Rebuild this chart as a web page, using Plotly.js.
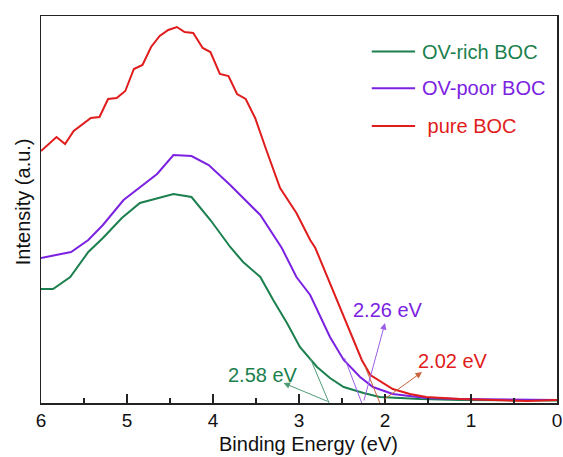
<!DOCTYPE html>
<html>
<head>
<meta charset="utf-8">
<script src="https://cdn.plot.ly/plotly-3.0.1.min.js"></script>
<style>html,body{margin:0;padding:0;background:#fff;}#chart{width:563px;height:457px;}</style>
</head>
<body>
<div id="chart"></div>
<script>
// Data
const seriesNames = ["OV-rich BOC", "OV-poor BOC", " pure BOC"];
const seriesColors = ["#1b7f4e", "#7b22e2", "#e01c1c"];

const greenX = [6.0,5.86,5.66,5.45,5.28,5.06,4.85,4.65,4.46,4.25,4.03,3.80,3.65,3.45,3.30,3.14,2.99,2.79,2.64,2.48,2.25,2.06,1.59,1.13,0.74,0.35,0];
const greenY = [114,114,126,151,165,185,200,205,209,206,183,156,141,126,103,80,56,36,25,16,10,6,4,3,3,2.5,2.5];

const purpleX = [6.0,5.65,5.45,5.28,5.04,4.85,4.65,4.46,4.25,4.05,3.80,3.45,3.34,3.20,3.03,2.87,2.64,2.48,2.29,2.14,1.91,1.52,1.13,0.74,0.35,0];
const purpleY = [145,151,163,178,203,216,229,248,247,238,218,188,173,155,126,108,66,43,26,16,9,5,4,3.5,3,3];

const redX = [6.0,5.82,5.72,5.62,5.42,5.32,5.22,5.12,5.02,4.92,4.82,4.72,4.62,4.52,4.42,4.33,4.23,4.12,4.03,3.92,3.82,3.72,3.62,3.51,3.38,3.22,3.03,2.87,2.81,2.64,2.48,2.41,2.27,2.17,2.06,1.91,1.71,1.52,1.13,0.74,0.35,0];
const redY = [252,266,259,272,285,286,304,305,312,334,338,356,367,373,376,371,370,355,351,329,327,309,304,285,253,215,190,163,155,120,86,73,43,28,22,14,9,6,4,3,2,3];

// Tangent lines (band-gap extrapolation)
const tanGreenX = [2.87, 2.65], tanGreenY = [45, 0];
const tanPurpleX = [2.47, 2.27], tanPurpleY = [45, 0];
const tanRedX = [2.23, 2.06], tanRedY = [36, 0];
const tangentColors = ["#4f9c77", "#9b5ee8", "#c8643e"];

// Band-gap labels
const gapLabels = ["2.58 eV", "2.26 eV", "2.02 eV"];
const gapLabelX = [3.42, 1.96, 1.21];
const gapLabelY = [28, 93, 42];
// arrow heads and tails
const arrowHeadX = [3.18, 2.0, 1.57];
const arrowHeadY = [20, 80, 31];
const arrowTailX = [2.65, 2.25, 2.02];
const arrowTailY = [1, 1, 3];

const xTicks = [6,5,4,3,2,1,0];

const FONT = "Liberation Sans, Arial, sans-serif";

const traces = [
  {x: greenX, y: greenY, mode: "lines", line: {color: seriesColors[0], width: 2}},
  {x: purpleX, y: purpleY, mode: "lines", line: {color: seriesColors[1], width: 2}},
  {x: redX, y: redY, mode: "lines", line: {color: seriesColors[2], width: 2}},
  {x: tanGreenX, y: tanGreenY, mode: "lines", line: {color: tangentColors[0], width: 1}},
  {x: tanPurpleX, y: tanPurpleY, mode: "lines", line: {color: tangentColors[1], width: 1}},
  {x: tanRedX, y: tanRedY, mode: "lines", line: {color: tangentColors[2], width: 1}}
];

const annotations = [];
const shapes = [];
for (let i = 0; i < 3; i++) {
  annotations.push({
    x: gapLabelX[i], y: gapLabelY[i], xref: "x", yref: "y",
    text: gapLabels[i], showarrow: false,
    font: {family: FONT, size: 20, color: seriesColors[i]},
    xanchor: "center", yanchor: "middle"
  });
  annotations.push({
    x: arrowHeadX[i], y: arrowHeadY[i], ax: arrowTailX[i], ay: arrowTailY[i],
    xref: "x", yref: "y", axref: "x", ayref: "y",
    text: "", showarrow: true, arrowhead: 2, arrowsize: 1.3, arrowwidth: 1,
    arrowcolor: tangentColors[i], standoff: 0, startstandoff: 0
  });
}
// Legend (manual, in paper coordinates)
const legendRowY = [0.908, 0.813, 0.716];
for (let i = 0; i < 3; i++) {
  shapes.push({
    type: "line", xref: "paper", yref: "paper",
    x0: 0.641, x1: 0.725, y0: legendRowY[i], y1: legendRowY[i],
    line: {color: seriesColors[i], width: 2}
  });
  annotations.push({
    x: 0.734, y: legendRowY[i], xref: "paper", yref: "paper",
    text: seriesNames[i], showarrow: false, xanchor: "left", yanchor: "middle",
    font: {family: FONT, size: 20, color: seriesColors[i]}
  });
}
// axis titles placed as text
annotations.push({
  x: -0.036, y: 0.52, xref: "paper", yref: "paper",
  text: "Intensity (a.u.)", textangle: -90, showarrow: false,
  xanchor: "center", yanchor: "middle",
  font: {family: FONT, size: 20, color: "#111"}
});
annotations.push({
  x: 0.519, y: -0.107, xref: "paper", yref: "paper",
  text: "Binding Energy (eV)", showarrow: false,
  xanchor: "center", yanchor: "middle", borderpad: 0,
  font: {family: FONT, size: 20, color: "#111"}
});

const layout = {
  width: 563, height: 457,
  margin: {l: 41, r: 6, t: 16, b: 54},
  paper_bgcolor: "#fff", plot_bgcolor: "#fff",
  showlegend: false,
  font: {family: FONT, size: 19, color: "#111"},
  xaxis: {
    range: [6, 0], tickvals: xTicks, ticktext: xTicks.map(String),
    ticks: "inside", ticklen: 9, tickwidth: 1.5, tickcolor: "#222",
    minor: {dtick: 0.5, ticks: "inside", ticklen: 5, tickwidth: 1.5, tickcolor: "#222"},
    showgrid: false, zeroline: false,
    showline: true, linecolor: "#222", linewidth: 1.5, mirror: true,
    tickfont: {family: FONT, size: 19, color: "#111"}
  },
  yaxis: {
    range: [0, 387], showticklabels: false, ticks: "",
    showgrid: false, zeroline: false,
    showline: true, linecolor: "#222", linewidth: 1.5, mirror: true
  },
  annotations: annotations,
  shapes: shapes
};

Plotly.newPlot("chart", traces, layout, {displayModeBar: false, staticPlot: true});
</script>
</body>
</html>
